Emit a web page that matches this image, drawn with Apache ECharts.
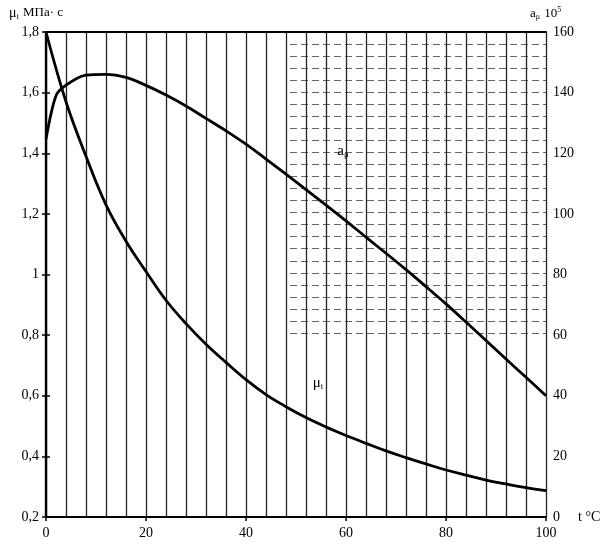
<!DOCTYPE html>
<html>
<head>
<meta charset="utf-8">
<script src="https://cdn.jsdelivr.net/npm/echarts@6/dist/echarts.min.js"></script>
<style>
html, body { margin: 0; padding: 0; background: #fff; }
#chart { width: 603px; height: 545px; }
</style>
</head>
<body>
<div id="chart"></div>
<script>
// температура, °C
var tempMu = [0, 4, 8, 12, 16, 20, 24, 28, 32, 36, 40, 44, 48, 52, 56, 60, 64, 68, 72, 76, 80, 84, 88, 92, 96, 100];
// вязкость mu_t, МПа·с (левая ось)
var muValues = [1.80, 1.57, 1.39, 1.23, 1.11, 1.01, 0.915, 0.838, 0.77, 0.71, 0.653, 0.604, 0.564, 0.528, 0.497, 0.469, 0.443, 0.418, 0.396, 0.375, 0.355, 0.338, 0.322, 0.309, 0.297, 0.287];
// a_mu * 10^5 (правая ось)
var tempA = [0, 2, 4, 8, 12, 16, 20, 24, 28, 32, 36, 40, 44, 48, 52, 56, 60, 64, 68, 72, 76, 80, 84, 88, 92, 96, 100];
var aValues = [124.6, 139, 142.5, 145.8, 146, 145, 142.4, 139.2, 135.6, 131.5, 127.4, 123, 118.1, 113.1, 108, 102.9, 97.7, 92.3, 87, 81.6, 76, 70.3, 64.3, 58.2, 52.1, 46.1, 40];
// подписи кривых
var labelA = [59.4, 120.8];
var labelMu = [54.4, 0.643];

var FONT = 'Liberation Serif';

function pairs(xs, ys) {
	var out = [];
	for (var i = 0; i < xs.length; i++) {
		out.push([xs[i], ys[i]]);
	}
	return out;
}

var thickLine = { show: true, lineStyle: { color: '#000', width: 2.2 } };
var tickStyle = { show: true, length: 4, lineStyle: { color: '#000', width: 1.5 } };
var labelFont = { fontFamily: FONT, fontSize: 14, color: '#000' };

var chart = echarts.init(document.getElementById('chart'));
chart.setOption({
	animation: false,
	textStyle: { fontFamily: FONT, color: '#000' },
	grid: [
		{ left: 46, right: 57, top: 32, bottom: 28 },
		// штриховая сетка в правом верхнем углу (как на скане)
		{ left: 290, right: 57, top: 32, bottom: 212 }
	],
	// подписи осей
	graphic: [{
		type: 'text', left: 9, top: 6,
		style: {
			text: '{m|μ}{s|t} МПа· с',
			font: '13px ' + FONT, fill: '#000',
			rich: {
				m: { fontFamily: FONT, fontSize: 14, fill: '#000' },
				s: { fontFamily: FONT, fontSize: 8, fill: '#000', verticalAlign: 'bottom', padding: [7, 1, 0, 0] }
			}
		}
	}, {
		type: 'text', left: 530, top: 6,
		style: {
			text: '{a|a}{s|μ} 10{p|5}',
			font: '13px ' + FONT, fill: '#000',
			rich: {
				a: { fontFamily: FONT, fontSize: 13, fill: '#000' },
				s: { fontFamily: FONT, fontSize: 8, fill: '#000', verticalAlign: 'bottom', padding: [7, 1, 0, 0] },
				p: { fontFamily: FONT, fontSize: 8, fill: '#000', verticalAlign: 'top', padding: [0, 0, 7, 0] }
			}
		}
	}, {
		type: 'text', left: 578, top: 510,
		style: { text: 't °C', font: '14px ' + FONT, fill: '#000' }
	}],
	xAxis: [{
		gridIndex: 0,
		type: 'value',
		min: 0, max: 100, interval: 20,
		axisLine: thickLine,
		axisTick: tickStyle,
		axisLabel: Object.assign({ margin: 9 }, labelFont),
		splitLine: { show: false }
	}, {
		gridIndex: 0,
		type: 'value',
		position: 'top',
		min: 0, max: 100, interval: 4,
		axisLine: thickLine,
		axisTick: { show: false },
		axisLabel: { show: false },
		splitLine: { show: true, lineStyle: { color: '#222', width: 1.3 } }
	}, {
		gridIndex: 1,
		type: 'value',
		min: 0, max: 1,
		show: false
	}],
	yAxis: [{
		gridIndex: 0,
		type: 'value',
		min: 0.2, max: 1.8, interval: 0.2,
		axisLine: thickLine,
		axisTick: tickStyle,
		axisLabel: Object.assign({
			margin: 7,
			formatter: function (v) {
				return String(+v.toFixed(1)).replace('.', ',');
			}
		}, labelFont),
		splitLine: { show: false }
	}, {
		gridIndex: 0,
		type: 'value',
		position: 'right',
		min: 0, max: 160, interval: 20,
		axisLine: thickLine,
		axisTick: tickStyle,
		axisLabel: Object.assign({ margin: 7 }, labelFont),
		splitLine: { show: false }
	}, {
		gridIndex: 1,
		type: 'value',
		min: 60, max: 160, interval: 4,
		axisLine: { show: false },
		axisTick: { show: false },
		axisLabel: { show: false },
		splitLine: { show: true, lineStyle: { color: '#333', width: 1, type: [7, 4], opacity: 0.75 } }
	}],
	series: [{
		name: 'mu',
		type: 'line',
		xAxisIndex: 0,
		yAxisIndex: 0,
		data: pairs(tempMu, muValues),
		smooth: 0.4,
		symbol: 'none',
		lineStyle: { color: '#000', width: 2.8 },
		markPoint: {
			symbol: 'circle', symbolSize: 0,
			label: {
				show: true, position: 'inside', color: '#000',
				formatter: '{m|μ}{s|t}',
				rich: {
					m: { fontFamily: FONT, fontSize: 15 },
					s: { fontFamily: FONT, fontSize: 9, verticalAlign: 'bottom', padding: [7, 0, 0, 0] }
				}
			},
			data: [{ coord: labelMu }]
		}
	}, {
		name: 'a',
		type: 'line',
		xAxisIndex: 0,
		yAxisIndex: 1,
		data: pairs(tempA, aValues),
		smooth: 0.3,
		symbol: 'none',
		lineStyle: { color: '#000', width: 2.8 },
		markPoint: {
			symbol: 'circle', symbolSize: 0,
			label: {
				show: true, position: 'inside', color: '#000',
				formatter: '{a|a}{s|μ}',
				rich: {
					a: { fontFamily: FONT, fontSize: 15 },
					s: { fontFamily: FONT, fontSize: 9, verticalAlign: 'bottom', padding: [7, 0, 0, 0] }
				}
			},
			data: [{ coord: labelA }]
		}
	}]
});
</script>
</body>
</html>
